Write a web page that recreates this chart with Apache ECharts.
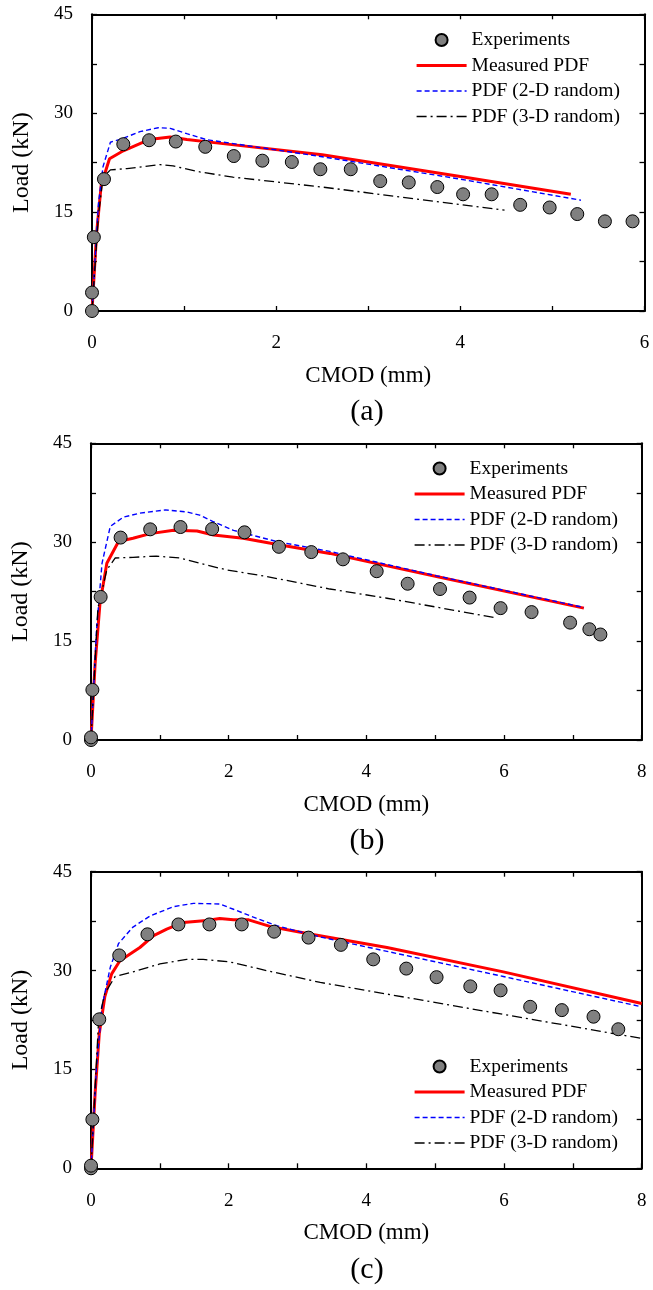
<!DOCTYPE html>
<html>
<head>
<meta charset="utf-8">
<script src="https://cdn.jsdelivr.net/npm/echarts@6/dist/echarts.min.js"></script>
<style>
html,body{margin:0;padding:0;background:#fff;}
#chart{width:653px;height:1290px;}
</style>
</head>
<body>
<div id="chart"></div>
<script>
// ---------- data (CMOD mm, Load kN) ----------
const seriesNames = ['Experiments', 'Measured PDF', 'PDF (2-D random)', 'PDF (3-D random)'];
const panelLabels = ['(a)', '(b)', '(c)'];
const yTickLabels = [0, 15, 30, 45];
const xTickLabelsA = [0, 2, 4, 6];
const xTickLabelsBC = [0, 2, 4, 6, 8];

// Panel (a)
const expA = [[0,0],[0,2.8],[0.02,11.2],[0.13,20.0],[0.34,25.3],[0.62,25.9],[0.91,25.7],[1.23,24.9],[1.54,23.5],[1.85,22.8],[2.17,22.6],[2.48,21.5],[2.81,21.5],[3.13,19.7],[3.44,19.5],[3.75,18.8],[4.03,17.7],[4.34,17.7],[4.65,16.1],[4.97,15.7],[5.27,14.7],[5.57,13.6],[5.87,13.6]];
const measA = [[0,0],[0.05,11.8],[0.1,19.1],[0.19,23.1],[0.34,24.3],[0.62,26.0],[0.85,26.4],[1.03,26.0],[1.35,25.5],[2.5,23.7],[4.0,20.4],[5.2,17.7]];
const twoDA = [[0,0],[0.07,16.3],[0.12,21.9],[0.2,25.6],[0.34,26.2],[0.52,27.2],[0.72,27.8],[0.85,27.7],[1.03,26.9],[1.24,26.0],[2.5,23.4],[4.0,20.0],[5.31,16.8]];
const threeDA = [[0,0],[0.07,14.5],[0.12,20.3],[0.2,21.4],[0.38,21.6],[0.74,22.2],[0.88,22.0],[1.17,21.1],[1.53,20.3],[2.5,18.8],[4.48,15.3]];

// Panel (b)
const expB = [[0,0],[0,0.4],[0.02,7.6],[0.14,21.7],[0.43,30.7],[0.86,31.95],[1.30,32.3],[1.76,32.0],[2.23,31.5],[2.73,29.3],[3.20,28.5],[3.66,27.4],[4.15,25.6],[4.60,23.7],[5.07,22.9],[5.50,21.6],[5.95,20.0],[6.40,19.4],[6.96,17.8],[7.24,16.8],[7.40,16.0]];
const measB = [[0,0],[0.06,11.6],[0.13,20.7],[0.23,26.8],[0.40,30.1],[0.61,30.6],[0.86,31.3],[1.20,31.8],[1.54,31.7],[1.78,31.1],[2.21,30.6],[2.73,29.6],[3.47,28.3],[5.02,24.8],[7.16,20.0]];
const twoDB = [[0,0],[0.08,16.7],[0.16,26.8],[0.28,32.4],[0.47,33.8],[0.71,34.4],[1.08,34.9],[1.39,34.6],[1.58,34.1],[1.78,33.1],[2.07,31.8],[2.70,30.1],[3.47,28.6],[5.02,24.9],[7.16,20.1]];
const threeDB = [[0,0],[0.1,20.0],[0.23,25.8],[0.35,27.6],[0.61,27.7],[0.95,27.9],[1.29,27.6],[1.58,26.8],[1.97,25.8],[2.55,24.8],[3.47,22.9],[4.30,21.5],[5.90,18.5]];

// Panel (c)
const expC = [[0,0],[0,0.4],[0.02,7.4],[0.12,22.6],[0.41,32.3],[0.82,35.5],[1.27,37.0],[1.72,37.0],[2.19,37.0],[2.66,35.9],[3.16,35.0],[3.63,33.9],[4.10,31.7],[4.58,30.3],[5.02,29.0],[5.51,27.6],[5.95,27.0],[6.38,24.5],[6.84,24.0],[7.30,23.0],[7.66,21.1]];
const measC = [[0,0],[0.06,11.4],[0.12,20.4],[0.20,26.0],[0.30,29.5],[0.42,31.5],[0.71,33.5],[0.91,35.3],[1.10,36.3],[1.34,37.3],[1.68,37.6],[1.87,37.9],[2.07,37.7],[2.29,37.7],[2.60,36.7],[3.16,35.6],[4.30,33.5],[5.99,29.8],[8.0,25.0]];
const twoDC = [[0,0],[0.08,15.4],[0.16,24.5],[0.28,30.5],[0.40,34.1],[0.61,36.6],[0.86,38.3],[1.20,39.7],[1.49,40.2],[1.87,40.1],[2.07,39.3],[2.36,38.1],[2.70,36.8],[3.33,35.1],[5.99,29.1],[8.0,24.5]];
const threeDC = [[0,0],[0.11,22.4],[0.2,26.5],[0.35,29.1],[0.61,29.8],[1.0,31.0],[1.39,31.7],[1.63,31.7],[2.02,31.3],[2.55,30.0],[3.33,28.2],[5.99,23.35],[8.0,19.7]];

// ---------- layout ----------
const FONT = 'Liberation Serif';
const panels = [
  {grid:{left:92, top:14.3, width:552.5, height:296.7}, xmax:6, xTicks:xTickLabelsA, data:[expA,measA,twoDA,threeDA], legendTop:30, labelY:412},
  {grid:{left:91, top:443.3, width:550.7, height:296.7}, xmax:8, xTicks:xTickLabelsBC, data:[expB,measB,twoDB,threeDB], legendTop:458.5, labelY:841},
  {grid:{left:91, top:871.7, width:550.7, height:296.6}, xmax:8, xTicks:xTickLabelsBC, data:[expC,measC,twoDC,threeDC], legendTop:1056.5, labelY:1270}
];
const legendLeft = [415, 413, 413];

const grids = [], xAxes = [], yAxes = [], series = [], legends = [], graphics = [];
const axisLineStyle = {color:'#000', width:2};
const tickStyle = {color:'#000', width:1.3};
const hiddenSym = {opacity:0, color:'rgba(0,0,0,0)', borderWidth:0};

panels.forEach((p, i) => {
  grids.push(Object.assign({containLabel:false}, p.grid));
  xAxes.push({
    type:'value', gridIndex:i, min:0, max:p.xmax, interval:1, position:'bottom',
    name:'CMOD (mm)', nameLocation:'middle', nameGap:53,
    nameTextStyle:{fontFamily:FONT, fontSize:23, color:'#000'},
    axisLine:{show:true, onZero:false, lineStyle:axisLineStyle},
    axisTick:{show:true, inside:true, length:5, lineStyle:tickStyle},
    axisLabel:{show:true, margin:23, fontFamily:FONT, fontSize:19, color:'#000',
      formatter:v => p.xTicks.indexOf(v) >= 0 ? String(v) : ''},
    splitLine:{show:false}
  });
  xAxes.push({
    type:'value', gridIndex:i, min:0, max:p.xmax, interval:1, position:'top',
    axisLine:{show:true, onZero:false, lineStyle:axisLineStyle},
    axisTick:{show:true, inside:true, length:5, lineStyle:tickStyle},
    axisLabel:{show:false}, splitLine:{show:false}
  });
  yAxes.push({
    type:'value', gridIndex:i, min:0, max:45, interval:7.5, position:'left',
    name:'Load (kN)', nameLocation:'middle', nameGap:58,
    nameTextStyle:{fontFamily:FONT, fontSize:24, color:'#000'},
    axisLine:{show:true, onZero:false, lineStyle:axisLineStyle},
    axisTick:{show:true, inside:true, length:5, lineStyle:tickStyle},
    axisLabel:{show:true, margin:19, fontFamily:FONT, fontSize:19, color:'#000',
      formatter:v => yTickLabels.indexOf(v) >= 0 ? String(v) : ''},
    splitLine:{show:false}
  });
  yAxes.push({
    type:'value', gridIndex:i, min:0, max:45, interval:7.5, position:'right',
    axisLine:{show:true, onZero:false, lineStyle:axisLineStyle},
    axisTick:{show:true, inside:true, length:5, lineStyle:tickStyle},
    axisLabel:{show:false}, splitLine:{show:false}
  });
  const xi = i*2, yi = i*2;
  series.push({
    name:seriesNames[1], type:'line', xAxisIndex:xi, yAxisIndex:yi, data:p.data[1],
    symbol:'none', lineStyle:{color:'#ff0000', width:3}, itemStyle:{color:'#ff0000'}, z:3, animation:false
  });
  series.push({
    name:seriesNames[2], type:'line', xAxisIndex:xi, yAxisIndex:yi, data:p.data[2],
    symbol:'none', lineStyle:{color:'#0000ff', width:1.4, type:[5,3]}, itemStyle:{color:'#0000ff'}, z:3, animation:false
  });
  series.push({
    name:seriesNames[3], type:'line', xAxisIndex:xi, yAxisIndex:yi, data:p.data[3],
    symbol:'none', lineStyle:{color:'#000000', width:1.3, type:[10,4,2,4]}, itemStyle:{color:'#000'}, z:3, animation:false
  });
  series.push({
    name:seriesNames[0], type:'scatter', xAxisIndex:xi, yAxisIndex:yi, data:p.data[0],
    symbol:'circle', symbolSize:13, clip:false,
    itemStyle:{color:'#808080', borderColor:'#000', borderWidth:1, opacity:1}, z:4, animation:false
  });
  legends.push({
    orient:'vertical', left:legendLeft[i], top:p.legendTop, padding:0,
    itemWidth:50, itemHeight:12, itemGap:5.5,
    data:[
      {name:seriesNames[0], icon:'circle'},
      {name:seriesNames[1], itemStyle:hiddenSym, lineStyle:{color:'#ff0000', width:3.2}},
      {name:seriesNames[2], itemStyle:hiddenSym, lineStyle:{color:'#0000ff', width:1.5, type:[5,3]}},
      {name:seriesNames[3], itemStyle:hiddenSym, lineStyle:{color:'#000', width:1.4, type:[10,4,2,4]}}
    ],
    selectedMode:false,
    textStyle:{fontFamily:FONT, fontSize:19.5, color:'#000', lineHeight:20}
  });
  graphics.push({
    type:'text', x:367, y:p.labelY,
    style:{text:panelLabels[i], fontFamily:FONT, fontSize:30, fill:'#000',
      align:'center', verticalAlign:'middle', textAlign:'center', textVerticalAlign:'middle'}
  });
});

const chart = echarts.init(document.getElementById('chart'), null, {renderer:'canvas'});
chart.setOption({
  backgroundColor:'#fff',
  animation:false,
  grid:grids, xAxis:xAxes, yAxis:yAxes, series:series, legend:legends,
  graphic:graphics
});
</script>
</body>
</html>
